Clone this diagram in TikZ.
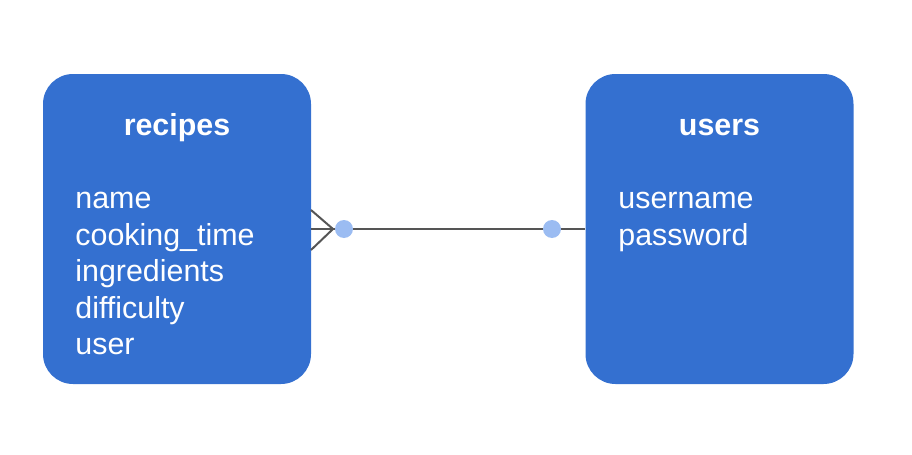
\documentclass[tikz,border=0pt]{standalone}
\usepackage{fontspec}
\setmainfont{Liberation Sans}
\definecolor{boxblue}{HTML}{3470D0}
\definecolor{dotblue}{HTML}{9BBCF2}
\definecolor{linegray}{HTML}{555555}
\begin{document}
\begin{tikzpicture}[x=0.5pt,y=-0.5pt,
  entity/.style={fill=boxblue,draw=none,rounded corners=15pt,minimum width=134pt,minimum height=155pt,inner sep=0pt},
  title/.style={text=white,font=\fontsize{15.2pt}{18pt}\selectfont\bfseries,anchor=base,inner sep=0pt},
  attr/.style={text=white,font=\fontsize{15.2pt}{18pt}\selectfont,anchor=base west,inner sep=0pt},
  dot/.style={circle,fill=dotblue,draw=none,minimum size=9pt,inner sep=0pt},
  conn/.style={draw=linegray,line width=1pt}]
\useasboundingbox (0,0) rectangle (912,455);
\node[entity] (recipes) at (177,229) {};
\node[entity] (users) at (719.5,229) {};
\node[title] (rt) at (177,135.5) {recipes};
\node[title] (ut) at (719.5,135.5) {users};
\foreach \t [count=\i from 0] in {name,cooking\_time,ingredients,difficulty,user}
  \node[attr] (ra\i) at (75,208.5+36.5*\i) {\t};
\foreach \t [count=\i from 0] in {username,password}
  \node[attr] (ua\i) at (618,208.5+36.5*\i) {\t};
\coordinate (tip) at (333,229);
\coordinate (footA) at (311,210);
\coordinate (footB) at (311,250);
\draw[conn] (recipes.east |- tip) -- (users.west |- tip);
\draw[conn] (footA) -- (tip) -- (footB);
\node[dot] (d1) at (344,229) {};
\node[dot] (d2) at (552,229) {};
\end{tikzpicture}
\end{document}
